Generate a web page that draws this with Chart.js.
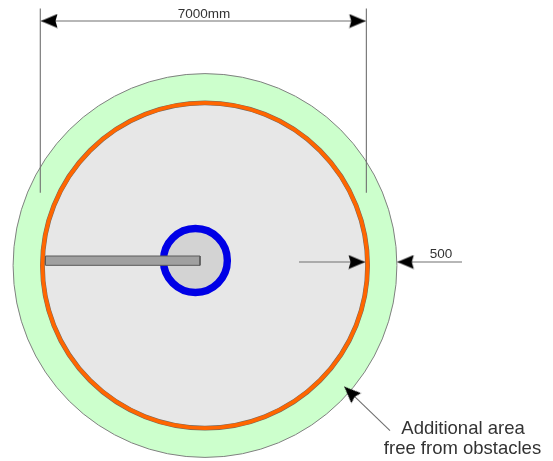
<!DOCTYPE html>
<html>
<head>
<meta charset="utf-8">
<script src="https://cdn.jsdelivr.net/npm/chart.js@4/dist/chart.umd.min.js"></script>
<style>
  html, body { margin: 0; padding: 0; background: #fff; }
  canvas { display: block; filter: blur(0.6px); }
</style>
</head>
<body>
<canvas id="plan" width="553" height="461"></canvas>
<script>
// all values in mm, centre of the big circle is 0,0
var clearCircle = { x: 0, y: 0, r: 4120 }
var trackCircle = { x: 0, y: 0, r: 3490 }
var hubCircle = { x: -206, y: 107, r: 686 }

var armX = [-3424, -107, -107, -3424, -3424]
var armY = [204, 204, 4, 4, 204]

var extLeftX = [-3536, -3536]
var extRightX = [3464, 3464]
var extY = [5518, 1563]
var widthLineX = [-3520, 3450]
var widthLineY = [5249, 5249]
var gapInnerX = [2018, 3435]
var gapOuterX = [4129, 5518]
var gapY = [75, 75]
var leaderX = [2991, 3972]
var leaderY = [-2602, -3547]

var arrowX = [-3520, 3450, 3435, 4129, 2991]
var arrowY = [5249, 5249, 75, 75, -2602]
var arrowAngle = [180, 0, 0, 180, 224]

var labels = ['7000mm', '500', 'Additional area', 'free from obstacles']
var labelX = [-21, 5067, 5539, 5528]
var labelY = [5385, 247, -3504, -3940]
var labelSize = [13.5, 13.5, 18.5, 18.5]

function zip(xs, ys) {
    return xs.map(function (x, i) { return { x: x, y: ys[i] } })
}

// arrow head with the tip in the middle of the image, so the point sits on the tip
function arrowHead() {
    var c = document.createElement('canvas')
    c.width = 36
    c.height = 15
    var g = c.getContext('2d')
    g.fillStyle = '#000'
    g.beginPath()
    g.moveTo(18, 7.5)
    g.lineTo(1.5, 0.5)
    g.lineTo(3.5, 7.5)
    g.lineTo(1.5, 14.5)
    g.closePath()
    g.fill()
    return c
}

function radiusFromScale(ctx) {
    var x = ctx.chart.scales.x
    return Math.abs(x.getPixelForValue(ctx.raw.r) - x.getPixelForValue(0))
}

function ring(circle, fill, edge, width, order) {
    return {
        data: [circle], order: order, showLine: false,
        pointRadius: radiusFromScale, pointBackgroundColor: fill,
        pointBorderColor: edge, pointBorderWidth: width
    }
}

function line(xs, ys, order) {
    return {
        data: zip(xs, ys), order: order, showLine: true, pointRadius: 0,
        borderColor: '#707070', borderWidth: 1.1, tension: 0
    }
}

var textPlugin = {
    id: 'planText',
    afterDraw: function (chart) {
        var g = chart.ctx
        g.save()
        g.fillStyle = '#333333'
        g.textAlign = 'center'
        g.textBaseline = 'middle'
        for (var i = 0; i < labels.length; i++) {
            g.font = labelSize[i] + 'px "Liberation Sans", Arial, sans-serif'
            g.fillText(labels[i], chart.scales.x.getPixelForValue(labelX[i]), chart.scales.y.getPixelForValue(labelY[i]))
        }
        g.restore()
    }
}

new Chart(document.getElementById('plan'), {
    type: 'scatter',
    data: {
        datasets: [
            ring(clearCircle, '#ccffcc', '#808080', 1, 10),
            ring(trackCircle, '#e7e7e7', '#77685c', 4.8, 9),
            ring(trackCircle, 'rgba(0,0,0,0)', '#ff6600', 3.8, 8),
            ring(hubCircle, '#d3d3d3', '#0000e6', 7.4, 7),
            {
                data: zip(armX, armY), order: 6, showLine: true, pointRadius: 0, tension: 0,
                borderColor: '#5a5a5a', borderWidth: 1, backgroundColor: '#a0a0a0', fill: 'shape'
            },
            line(extLeftX, extY, 5),
            line(extRightX, extY, 5),
            line(widthLineX, widthLineY, 5),
            line(gapInnerX, gapY, 5),
            line(gapOuterX, gapY, 5),
            line(leaderX, leaderY, 5),
            {
                data: zip(arrowX, arrowY), order: 1, showLine: false,
                pointStyle: arrowHead(), pointRadius: 8,
                pointRotation: function (ctx) { return arrowAngle[ctx.dataIndex] }
            }
        ]
    },
    options: {
        responsive: false,
        animation: false,
        events: [],
        layout: { padding: 0, autoPadding: false },
        plugins: { legend: { display: false }, tooltip: { enabled: false } },
        scales: {
            x: { type: 'linear', display: false, min: -4401, max: 7471 },
            y: { type: 'linear', display: false, min: -4197, max: 5700 }
        }
    },
    plugins: [textPlugin]
})
</script>
</body>
</html>
